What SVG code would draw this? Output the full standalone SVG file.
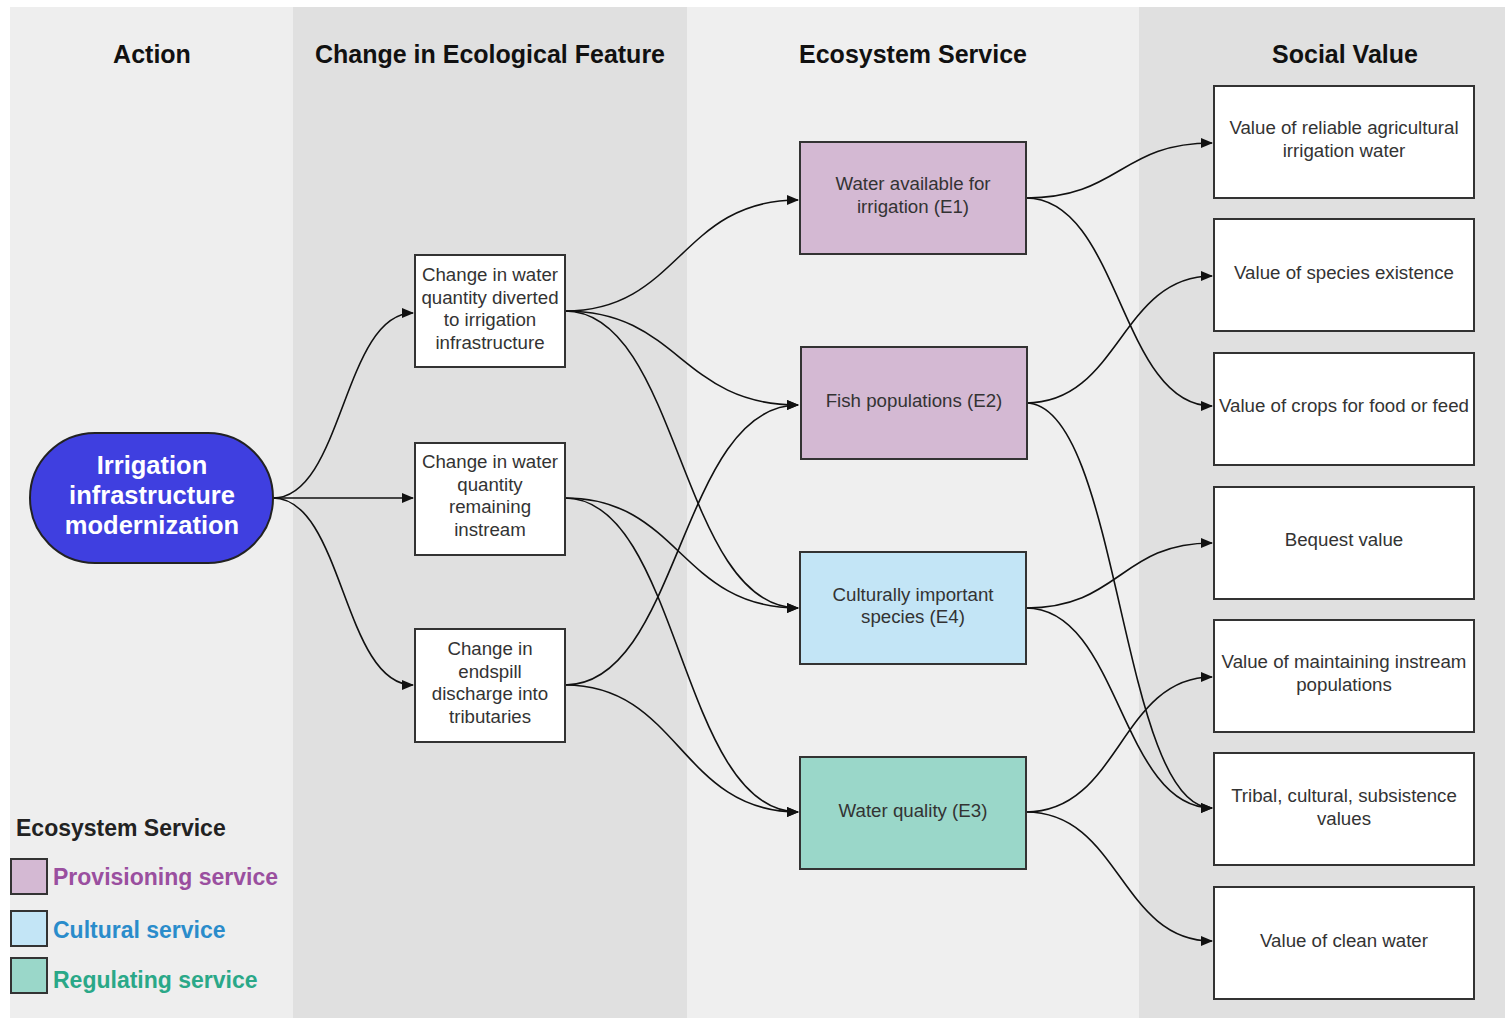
<svg xmlns="http://www.w3.org/2000/svg" width="1505" height="1018" viewBox="0 0 1505 1018">
<style>
.hd{font-family:"Liberation Sans",Arial,sans-serif;font-weight:bold;font-size:25px;fill:#111;text-anchor:middle}
.bx{stroke:#333;stroke-width:2}
.w{fill:#fff}
.t{font-family:"Liberation Sans",Arial,sans-serif;font-size:18.7px;fill:#333;text-anchor:middle}
.e{fill:none;stroke:#111;stroke-width:1.6;marker-end:url(#ah)}
.lg{font-family:"Liberation Sans",Arial,sans-serif;font-weight:bold;font-size:23px}
</style>
<defs>
<marker id="ah" viewBox="0 0 12 10" refX="11" refY="5" markerWidth="12" markerHeight="10" markerUnits="userSpaceOnUse" orient="auto">
<path d="M0,0 L12,5 L0,10 z" fill="#111"/>
</marker>
</defs>
<rect width="1505" height="1018" fill="#fff"/>
<g id="lanes">
<rect x="10" y="7" width="283" height="1011" fill="#eeeeee"/>
<rect x="293" y="7" width="394" height="1011" fill="#e0e0e0"/>
<rect x="687" y="7" width="452" height="1011" fill="#efefef"/>
<rect x="1139" y="7" width="366" height="1011" fill="#e0e0e0"/>
<text class="hd" x="152" y="63">Action</text>
<text class="hd" x="490" y="63">Change in Ecological Feature</text>
<text class="hd" x="913" y="63">Ecosystem Service</text>
<text class="hd" x="1345" y="63">Social Value</text>
</g>
<g id="connectors">
<path class="e" d="M273,498 C343,498 343,313 413,313"/>
<path class="e" d="M273,498 L413,498"/>
<path class="e" d="M273,498 C343,498 343,685 413,685"/>
<path class="e" d="M565,311 C680,311 680,200 798,200"/>
<path class="e" d="M565,311 C680,311 680,405 798,405"/>
<path class="e" d="M565,311 C680,311 680,608 798,608"/>
<path class="e" d="M565,498 C680,498 680,608 798,608"/>
<path class="e" d="M565,498 C680,498 680,812 798,812"/>
<path class="e" d="M565,685 C680,685 680,405 798,405"/>
<path class="e" d="M565,685 C680,685 680,812 798,812"/>
<path class="e" d="M1026,198 C1120,198 1120,143 1212,143"/>
<path class="e" d="M1026,198 C1120,198 1120,406 1212,406"/>
<path class="e" d="M1026,403 C1120,403 1120,276 1212,276"/>
<path class="e" d="M1026,403 C1120,403 1120,808 1212,808"/>
<path class="e" d="M1026,608 C1120,608 1120,543 1212,543"/>
<path class="e" d="M1026,608 C1120,608 1120,808 1212,808"/>
<path class="e" d="M1026,812 C1120,812 1120,677 1212,677"/>
<path class="e" d="M1026,812 C1120,812 1120,941 1212,941"/>
</g>
<g id="action">
<rect x="30" y="433" width="243" height="130" rx="65" ry="65" fill="#3f3fe0" stroke="#222" stroke-width="2"/>
<text font-family="Liberation Sans,Arial,sans-serif" font-weight="bold" font-size="25.5" fill="#fff" text-anchor="middle"><tspan x="152" y="474">Irrigation</tspan><tspan x="152" y="504">infrastructure</tspan><tspan x="152" y="534">modernization</tspan></text>
</g>
<g id="f1"><rect class="bx w" x="415" y="255" width="150" height="112"/><text class="t"><tspan x="490" y="281">Change in water</tspan><tspan x="490" y="304">quantity diverted</tspan><tspan x="490" y="326">to irrigation</tspan><tspan x="490" y="349">infrastructure</tspan></text></g>
<g id="f2"><rect class="bx w" x="415" y="443" width="150" height="112"/><text class="t"><tspan x="490" y="468">Change in water</tspan><tspan x="490" y="491">quantity</tspan><tspan x="490" y="513">remaining</tspan><tspan x="490" y="536">instream</tspan></text></g>
<g id="f3"><rect class="bx w" x="415" y="629" width="150" height="113"/><text class="t"><tspan x="490" y="655">Change in</tspan><tspan x="490" y="678">endspill</tspan><tspan x="490" y="700">discharge into</tspan><tspan x="490" y="723">tributaries</tspan></text></g>
<g id="e1"><rect class="bx" x="800" y="142" width="226" height="112" fill="#d4b9d3"/><text class="t"><tspan x="913" y="190">Water available for</tspan><tspan x="913" y="213">irrigation (E1)</tspan></text></g>
<g id="e2"><rect class="bx" x="801" y="347" width="226" height="112" fill="#d4b9d3"/><text class="t"><tspan x="914" y="407">Fish populations (E2)</tspan></text></g>
<g id="e4"><rect class="bx" x="800" y="552" width="226" height="112" fill="#c3e5f6"/><text class="t"><tspan x="913" y="601">Culturally important</tspan><tspan x="913" y="623">species (E4)</tspan></text></g>
<g id="e3"><rect class="bx" x="800" y="757" width="226" height="112" fill="#9ad7c9"/><text class="t"><tspan x="913" y="817">Water quality (E3)</tspan></text></g>
<g id="s1"><rect class="bx w" x="1214" y="86" width="260" height="112"/><text class="t"><tspan x="1344" y="134">Value of reliable agricultural</tspan><tspan x="1344" y="157">irrigation water</tspan></text></g>
<g id="s2"><rect class="bx w" x="1214" y="219" width="260" height="112"/><text class="t"><tspan x="1344" y="279">Value of species existence</tspan></text></g>
<g id="s3"><rect class="bx w" x="1214" y="353" width="260" height="112"/><text class="t"><tspan x="1344" y="412">Value of crops for food or feed</tspan></text></g>
<g id="s4"><rect class="bx w" x="1214" y="487" width="260" height="112"/><text class="t"><tspan x="1344" y="546">Bequest value</tspan></text></g>
<g id="s5"><rect class="bx w" x="1214" y="620" width="260" height="112"/><text class="t"><tspan x="1344" y="668">Value of maintaining instream</tspan><tspan x="1344" y="691">populations</tspan></text></g>
<g id="s6"><rect class="bx w" x="1214" y="753" width="260" height="112"/><text class="t"><tspan x="1344" y="802">Tribal, cultural, subsistence</tspan><tspan x="1344" y="825">values</tspan></text></g>
<g id="s7"><rect class="bx w" x="1214" y="887" width="260" height="112"/><text class="t"><tspan x="1344" y="947">Value of clean water</tspan></text></g>
<g id="legend">
<text class="lg" x="16" y="836" fill="#222">Ecosystem Service</text>
<rect class="bx" x="11" y="859" width="36" height="35" fill="#d4b9d3"/>
<text class="lg" x="53" y="885" fill="#9a4f9f">Provisioning service</text>
<rect class="bx" x="11" y="911" width="36" height="35" fill="#c3e5f6"/>
<text class="lg" x="53" y="938" fill="#2a8ccb">Cultural service</text>
<rect class="bx" x="11" y="958" width="36" height="35" fill="#9ad7c9"/>
<text class="lg" x="53" y="988" fill="#2aa888">Regulating service</text>
</g>
</svg>
